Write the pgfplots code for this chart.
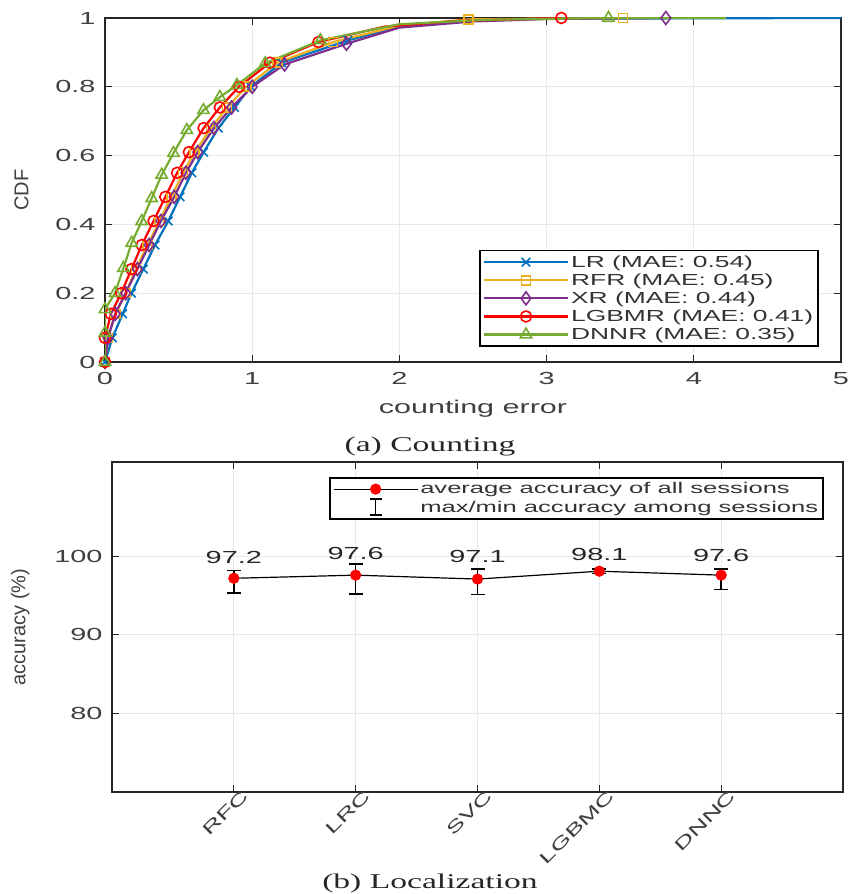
\documentclass[border=0pt]{standalone}
\usepackage{pgfplots}
\pgfplotsset{compat=1.18}
\usepackage{fontspec}
\setmainfont{Liberation Sans}[FakeStretch=1.65]
\newfontfamily\unst{Liberation Sans}
\newfontfamily\capfont{Liberation Serif}[FakeStretch=1.6]
\definecolor{c1}{rgb}{0,0.447,0.741}
\definecolor{c2}{rgb}{0.929,0.694,0.125}
\definecolor{c3}{rgb}{0.494,0.184,0.556}
\definecolor{c5}{rgb}{0.466,0.674,0.188}
\definecolor{axgray}{rgb}{0.15,0.15,0.15}
\pgfplotsset{
  mystyle/.style={
    scale only axis,
    anchor=south west,
    /pgf/number format/assume math mode=true,
    tick align=inside,
    major tick length=7pt,
    tick style={line width=1pt, color=axgray},
    axis line style={line width=2pt, color=axgray},
    grid=major,
    major grid style={line width=1pt, color=gray!18},
    ticklabel style={font=\fontsize{17.5}{20}\selectfont, color=black!75},
    label style={font=\fontsize{18.5}{22}\selectfont, color=black!75},
  },
  longleg/.style={legend image code/.code={\draw[##1, mark indices={2}] plot coordinates {(0pt,0pt) (42pt,0pt) (84pt,0pt)};}},
  ebleg/.style={legend image code/.code={
    \draw[black, line width=1.5pt] (42pt,-8pt) -- (42pt,8pt);
    \draw[black, line width=1.5pt] (36pt,-8pt) -- (48pt,-8pt);
    \draw[black, line width=1.5pt] (36pt,8pt) -- (48pt,8pt);}},
}
\begin{document}
\begin{tikzpicture}[x=1pt,y=1pt]
\useasboundingbox (0,0) rectangle (847,894);
\begin{axis}[mystyle,
  at={(105pt,532pt)}, width=736pt, height=344pt,
  xmin=0, xmax=5, ymin=0, ymax=1,
  xtick={0,1,2,3,4,5}, ytick={0,0.2,0.4,0.6,0.8,1},
  yticklabel style={xshift=-6pt},
  xticklabel style={yshift=-7pt},
  xlabel={counting error}, ylabel={\unst\fontsize{20}{24}\selectfont CDF},
  xlabel style={yshift=-8pt},
  ylabel style={yshift=20pt},
  legend style={at={(0.970,0.044)}, anchor=south east, draw=black, line width=1.5pt,
    font=\fontsize{16}{18}\selectfont, text=black!80, row sep=1pt,
    inner sep=3pt, nodes={inner sep=2pt}},
  legend cell align=left,
  longleg,
  every axis plot/.append style={line width=2.2pt, mark size=5.5pt, mark options={solid, line width=1.6pt, fill=none}},
]
\addplot[c1, mark=x, mark size=6pt, mark indices={1,2,3,4,5,6,7,8,9,10,11,12,13,14,15}] coordinates {
(0,0)(0.05,0.07)(0.12,0.14)(0.18,0.20)(0.26,0.27)(0.34,0.34)(0.43,0.41)(0.51,0.48)(0.59,0.55)(0.67,0.61)(0.77,0.68)(0.88,0.74)(0.99,0.80)(1.2,0.87)(1.65,0.935)(2.0,0.975)(2.5,0.992)(3.0,0.998)(5,1)};
\addlegendentry{LR (MAE: 0.54)}
\addplot[c2, mark=square, mark size=4.5pt, mark indices={1,2,3,4,5,6,7,8,9,10,11,12,13,14,15,17,18}] coordinates {
(0,0)(0.02,0.07)(0.07,0.14)(0.14,0.20)(0.21,0.27)(0.29,0.34)(0.37,0.41)(0.45,0.48)(0.53,0.55)(0.61,0.61)(0.72,0.68)(0.83,0.74)(0.96,0.80)(1.17,0.87)(1.55,0.93)(2.0,0.978)(2.47,0.996)(3.52,1.0)};
\addlegendentry{RFR (MAE: 0.45)}
\addplot[c3, mark=diamond, mark size=6.5pt, mark indices={1,2,3,4,5,6,7,8,9,10,11,12,13,14,15,19}] coordinates {
(0,0)(0.02,0.07)(0.07,0.14)(0.14,0.20)(0.22,0.27)(0.30,0.34)(0.38,0.41)(0.47,0.48)(0.55,0.55)(0.63,0.61)(0.74,0.68)(0.86,0.74)(1.0,0.80)(1.22,0.865)(1.64,0.925)(2.0,0.972)(2.5,0.99)(3.0,0.997)(3.81,1.0)};
\addlegendentry{XR (MAE: 0.44)}
\addplot[red, mark=o, mark indices={1,2,3,4,5,6,7,8,9,10,11,12,13,14,15,18}] coordinates {
(0,0)(0,0.07)(0.04,0.14)(0.11,0.20)(0.18,0.27)(0.25,0.34)(0.33,0.41)(0.41,0.48)(0.49,0.55)(0.57,0.61)(0.67,0.68)(0.78,0.74)(0.91,0.80)(1.12,0.87)(1.45,0.93)(1.9,0.975)(2.4,0.992)(3.1,1.0)};
\addlegendentry{LGBMR (MAE: 0.41)}
\addplot[c5, mark=triangle, mark size=6.5pt, mark indices={1,2,3,4,5,6,7,8,9,10,11,12,13,14,15,16,19}] coordinates {
(0,0)(0,0.085)(0,0.153)(0.068,0.20)(0.125,0.273)(0.181,0.346)(0.249,0.409)(0.317,0.476)(0.385,0.544)(0.465,0.607)(0.556,0.674)(0.669,0.732)(0.78,0.77)(0.896,0.805)(1.088,0.868)(1.463,0.935)(2.0,0.982)(2.6,0.995)(3.42,1.0)(4.22,1.0)};
\addlegendentry{DNNR (MAE: 0.35)}
\end{axis}

\node[font=\capfont\fontsize{21}{24}\selectfont, text=black!85] at (430,448) {(a) Counting};

\begin{axis}[mystyle,
  at={(112pt,102pt)}, width=731pt, height=330pt,
  xmin=0, xmax=6, ymin=70, ymax=112,
  xtick={1,2,3,4,5}, xticklabels={RFC,LRC,SVC,LGBMC,DNNC},
  ytick={80,90,100},
  xticklabel style={rotate=45, anchor=east, xshift=11pt, yshift=-9pt, font=\fontsize{16.5}{19}\selectfont},
  yticklabel style={xshift=-6pt},
  ylabel={\unst\fontsize{20}{24}\selectfont accuracy (\%)},
  ylabel style={yshift=18pt},
  legend style={at={(0.974,0.9545)}, anchor=north east, draw=black, line width=1.5pt,
    font=\fontsize{15.5}{18}\selectfont, text=black!80, row sep=1pt,
    inner sep=3pt, nodes={inner sep=2pt}},
  legend cell align=left,
  reverse legend,
]
\addplot[draw=none, mark=none, ebleg,
  error bars/.cd, y dir=both, y explicit,
  error bar style={black, line width=1.5pt},
  error mark options={rotate=90, mark size=7pt, line width=1.5pt, black}]
coordinates {
(1,97.2) += (0,1.0) -= (0,1.85)
(2,97.6) += (0,1.4) -= (0,2.4)
(3,97.1) += (0,1.3) -= (0,1.95)
(4,98.1) += (0,0.25) -= (0,0.3)
(5,97.6) += (0,0.8) -= (0,1.8)
};
\addlegendentry{max/min accuracy among sessions}
\addplot[black, line width=1.2pt, mark=*, mark size=5pt, mark options={red, fill=red, draw=red}, longleg]
coordinates {(1,97.2)(2,97.6)(3,97.1)(4,98.1)(5,97.6)};
\addlegendentry{average accuracy of all sessions}
\addplot[draw=none, mark=none, forget plot, nodes near coords, point meta=explicit symbolic,
  nodes near coords style={anchor=center, font=\fontsize{17.5}{20}\selectfont, text=black!85}]
coordinates {(1,99.8)[97.2] (2,100.4)[97.6] (3,100.0)[97.1] (4,100.25)[98.1] (5,100.1)[97.6]};
\end{axis}

\node[font=\capfont\fontsize{21}{24}\selectfont, text=black!85] at (430,11) {(b) Localization};
\end{tikzpicture}
\end{document}
